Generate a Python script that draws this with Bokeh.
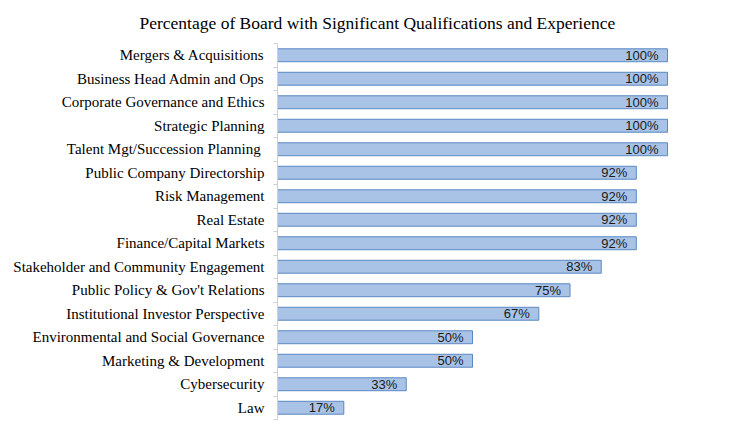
from bokeh.plotting import figure
from bokeh.models import Range1d, FixedTicker, ColumnDataSource
from bokeh.embed import file_html
from bokeh.resources import INLINE
from bokeh.core.properties import value

categories = [
    "Mergers & Acquisitions",
    "Business Head Admin and Ops",
    "Corporate Governance and Ethics",
    "Strategic Planning",
    "Talent Mgt/Succession Planning ",
    "Public Company Directorship",
    "Risk Management",
    "Real Estate",
    "Finance/Capital Markets",
    "Stakeholder and Community Engagement",
    "Public Policy & Gov't Relations",
    "Institutional Investor Perspective",
    "Environmental and Social Governance",
    "Marketing & Development",
    "Cybersecurity",
    "Law",
]
values = [100, 100, 100, 100, 100, 92, 92, 92, 92, 83, 75, 67, 50, 50, 33, 17]
title_text = "Percentage of Board with Significant Qualifications and Experience"

n = len(categories)
ypos = [i + 0.5 for i in range(n)]
labels = [f"{v}%" for v in values]

src = ColumnDataSource(dict(y=ypos, v=values, lab=labels))

p = figure(width=723, height=423, output_backend="svg", toolbar_location=None,
           x_range=Range1d(0, 112.3), y_range=Range1d(n, 0),
           min_border_left=277, min_border_right=8, min_border_top=42, min_border_bottom=4)
p.outline_line_color = None
p.xaxis.visible = False
p.xgrid.visible = False
p.ygrid.visible = False
p.background_fill_color = "white"

p.title.text = title_text
p.title.align = "left"
p.title.offset = -138
p.title.text_font = "Liberation Serif"
p.title.text_font_size = "17.5px"
p.title.text_font_style = "normal"
p.title.text_color = "black"
p.title.standoff = 21

p.hbar(y="y", left=0, right="v", height=0.55, source=src,
       fill_color="#A8C3E6", line_color="#5A88C2", line_width=1)

p.text(x="v", y="y", text="lab", source=src, x_offset=-9,
       text_align="right", text_baseline="middle",
       text_font=value("Liberation Sans"), text_font_size="13px", text_color="#1a1a1a")

ax = p.yaxis[0]
ax.ticker = FixedTicker(ticks=ypos, minor_ticks=[i for i in range(n + 1)])
ax.major_label_overrides = {y: c for y, c in zip(ypos, categories)}
ax.major_label_text_font = "Liberation Serif"
ax.major_label_text_font_size = "15px"
ax.major_label_text_color = "black"
ax.major_tick_line_color = None
ax.minor_tick_line_color = "#D0D0D0"
ax.minor_tick_out = 4
ax.minor_tick_in = 0
ax.axis_line_color = "#D0D0D0"
ax.major_label_standoff = 7

open("out.html", "w").write(file_html(p, INLINE))
